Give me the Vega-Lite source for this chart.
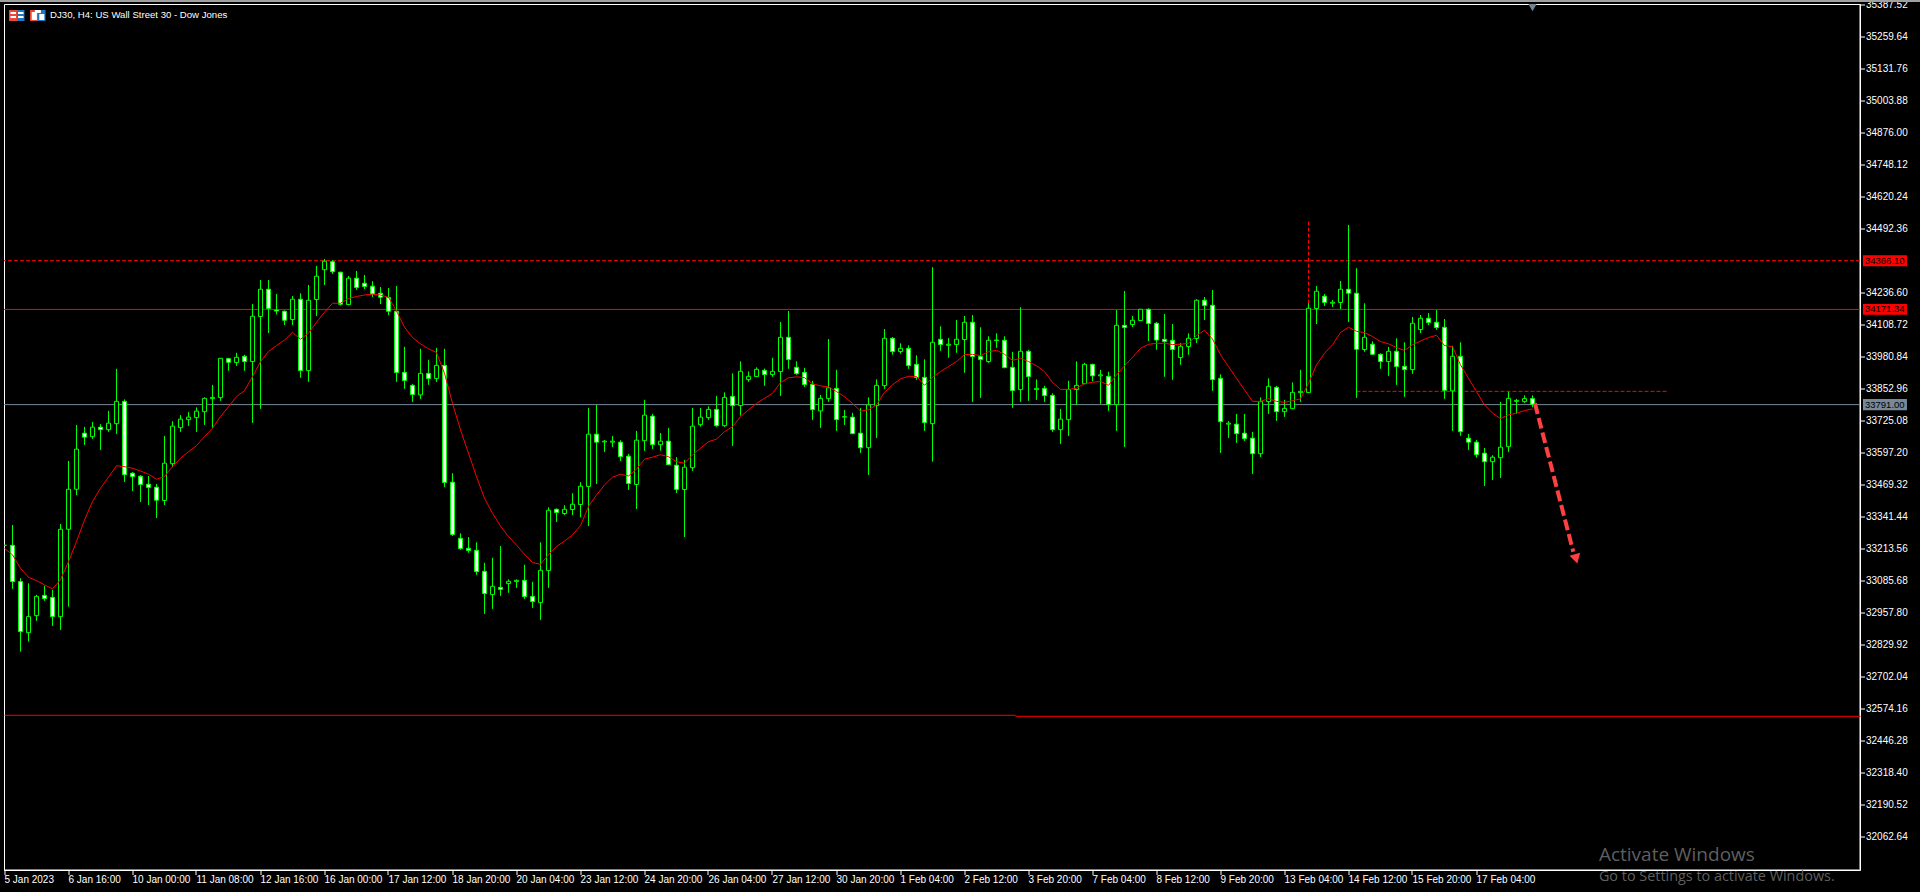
{"$schema":"https://vega.github.io/schema/vega-lite/v6.json","width":1856,"height":866,"autosize":{"type":"none"},"padding":{"left":4,"top":4,"right":60,"bottom":22},"background":"#000000","view":{"stroke":"#ffffff","strokeWidth":1,"fill":"#000000"},
"config":{"scale":{"continuousPadding":0},"axis":{"grid":false,"translate":0,"domainColor":"#ffffff","tickColor":"#ffffff","labelColor":"#ffffff","labelFont":"Liberation Sans","labelFontSize":10,"title":null,"tickSize":5,"labelOverlap":false,"labelBound":false,"labelFlush":false}},
"datasets":{
"candles":[
{"n":-1,"o":33229,"h":33229,"l":33229,"c":33229,"ma":33217},
{"n":0,"o":33229,"h":33310,"l":33055,"c":33084,"ma":33191},
{"n":1,"o":33084,"h":33097,"l":32804,"c":32884,"ma":33137},
{"n":2,"o":32880,"h":33077,"l":32844,"c":32944,"ma":33101},
{"n":3,"o":32948,"h":33031,"l":32927,"c":33025,"ma":33088},
{"n":4,"o":33029,"h":33067,"l":33007,"c":33016,"ma":33071},
{"n":5,"o":33021,"h":33051,"l":32907,"c":32944,"ma":33055},
{"n":6,"o":32944,"h":33314,"l":32891,"c":33293,"ma":33091},
{"n":7,"o":33293,"h":33566,"l":32984,"c":33453,"ma":33164},
{"n":8,"o":33453,"h":33710,"l":33430,"c":33613,"ma":33244},
{"n":9,"o":33677,"h":33702,"l":33630,"c":33661,"ma":33330},
{"n":10,"o":33663,"h":33722,"l":33654,"c":33701,"ma":33404},
{"n":11,"o":33701,"h":33713,"l":33610,"c":33691,"ma":33457},
{"n":12,"o":33691,"h":33766,"l":33682,"c":33717,"ma":33501},
{"n":13,"o":33715,"h":33934,"l":33674,"c":33804,"ma":33547},
{"n":14,"o":33804,"h":33812,"l":33482,"c":33511,"ma":33543},
{"n":15,"o":33517,"h":33521,"l":33446,"c":33503,"ma":33537},
{"n":16,"o":33505,"h":33509,"l":33402,"c":33472,"ma":33526},
{"n":17,"o":33473,"h":33506,"l":33390,"c":33460,"ma":33513},
{"n":18,"o":33461,"h":33474,"l":33338,"c":33409,"ma":33493},
{"n":19,"o":33408,"h":33666,"l":33390,"c":33557,"ma":33503},
{"n":20,"o":33555,"h":33725,"l":33541,"c":33705,"ma":33543},
{"n":21,"o":33699,"h":33749,"l":33682,"c":33733,"ma":33577},
{"n":22,"o":33731,"h":33761,"l":33706,"c":33741,"ma":33603},
{"n":23,"o":33739,"h":33780,"l":33682,"c":33765,"ma":33627},
{"n":24,"o":33763,"h":33820,"l":33710,"c":33816,"ma":33663},
{"n":25,"o":33815,"h":33870,"l":33697,"c":33820,"ma":33697},
{"n":26,"o":33819,"h":33976,"l":33806,"c":33976,"ma":33743},
{"n":27,"o":33975,"h":33978,"l":33926,"c":33960,"ma":33783},
{"n":28,"o":33959,"h":33998,"l":33946,"c":33980,"ma":33823},
{"n":29,"o":33984,"h":33990,"l":33926,"c":33963,"ma":33847},
{"n":30,"o":33963,"h":34193,"l":33718,"c":34144,"ma":33903},
{"n":31,"o":34143,"h":34289,"l":33774,"c":34252,"ma":33963},
{"n":32,"o":34252,"h":34289,"l":34077,"c":34175,"ma":34003},
{"n":33,"o":34169,"h":34233,"l":34151,"c":34165,"ma":34027},
{"n":34,"o":34164,"h":34167,"l":34109,"c":34128,"ma":34049},
{"n":35,"o":34131,"h":34225,"l":34109,"c":34212,"ma":34080},
{"n":36,"o":34212,"h":34236,"l":33898,"c":33927,"ma":34052},
{"n":37,"o":33927,"h":34269,"l":33882,"c":34208,"ma":34076},
{"n":38,"o":34211,"h":34345,"l":34145,"c":34304,"ma":34120},
{"n":39,"o":34330,"h":34373,"l":34269,"c":34364,"ma":34160},
{"n":40,"o":34362,"h":34369,"l":34313,"c":34322,"ma":34196},
{"n":41,"o":34320,"h":34322,"l":34187,"c":34192,"ma":34196},
{"n":42,"o":34191,"h":34305,"l":34188,"c":34296,"ma":34215},
{"n":43,"o":34296,"h":34325,"l":34249,"c":34259,"ma":34223},
{"n":44,"o":34276,"h":34309,"l":34253,"c":34263,"ma":34229},
{"n":45,"o":34264,"h":34284,"l":34221,"c":34233,"ma":34232},
{"n":46,"o":34236,"h":34261,"l":34193,"c":34220,"ma":34229},
{"n":47,"o":34219,"h":34257,"l":34149,"c":34164,"ma":34220},
{"n":48,"o":34164,"h":34265,"l":33882,"c":33919,"ma":34165},
{"n":49,"o":33920,"h":34022,"l":33854,"c":33887,"ma":34100},
{"n":50,"o":33868,"h":33874,"l":33802,"c":33831,"ma":34059},
{"n":51,"o":33830,"h":34014,"l":33814,"c":33916,"ma":34034},
{"n":52,"o":33916,"h":33970,"l":33870,"c":33895,"ma":34014},
{"n":53,"o":33895,"h":34018,"l":33882,"c":33948,"ma":33999},
{"n":54,"o":33948,"h":34014,"l":33462,"c":33480,"ma":33916},
{"n":55,"o":33481,"h":33517,"l":33266,"c":33272,"ma":33796},
{"n":56,"o":33257,"h":33277,"l":33211,"c":33216,"ma":33690},
{"n":57,"o":33217,"h":33262,"l":33199,"c":33208,"ma":33597},
{"n":58,"o":33209,"h":33241,"l":33111,"c":33124,"ma":33503},
{"n":59,"o":33125,"h":33159,"l":32955,"c":33036,"ma":33417},
{"n":60,"o":33032,"h":33179,"l":32975,"c":33065,"ma":33357},
{"n":61,"o":33061,"h":33226,"l":33027,"c":33053,"ma":33306},
{"n":62,"o":33076,"h":33093,"l":33039,"c":33085,"ma":33264},
{"n":63,"o":33084,"h":33093,"l":33059,"c":33089,"ma":33230},
{"n":64,"o":33089,"h":33151,"l":33015,"c":33024,"ma":33193},
{"n":65,"o":33025,"h":33083,"l":32979,"c":33004,"ma":33160},
{"n":66,"o":33000,"h":33241,"l":32931,"c":33129,"ma":33153},
{"n":67,"o":33128,"h":33381,"l":33059,"c":33369,"ma":33191},
{"n":68,"o":33373,"h":33376,"l":33322,"c":33360,"ma":33224},
{"n":69,"o":33356,"h":33389,"l":33350,"c":33373,"ma":33246},
{"n":70,"o":33372,"h":33437,"l":33350,"c":33393,"ma":33270},
{"n":71,"o":33392,"h":33481,"l":33341,"c":33465,"ma":33308},
{"n":72,"o":33464,"h":33778,"l":33306,"c":33673,"ma":33384},
{"n":73,"o":33673,"h":33790,"l":33474,"c":33641,"ma":33430},
{"n":74,"o":33642,"h":33650,"l":33602,"c":33645,"ma":33470},
{"n":75,"o":33641,"h":33666,"l":33622,"c":33645,"ma":33501},
{"n":76,"o":33641,"h":33649,"l":33566,"c":33583,"ma":33513},
{"n":77,"o":33585,"h":33594,"l":33450,"c":33476,"ma":33506},
{"n":78,"o":33472,"h":33686,"l":33374,"c":33649,"ma":33533},
{"n":79,"o":33647,"h":33810,"l":33606,"c":33749,"ma":33573},
{"n":80,"o":33745,"h":33754,"l":33614,"c":33631,"ma":33581},
{"n":81,"o":33631,"h":33678,"l":33607,"c":33645,"ma":33591},
{"n":82,"o":33645,"h":33698,"l":33550,"c":33551,"ma":33583},
{"n":83,"o":33549,"h":33581,"l":33438,"c":33452,"ma":33563},
{"n":84,"o":33452,"h":33570,"l":33262,"c":33541,"ma":33557},
{"n":85,"o":33539,"h":33778,"l":33526,"c":33705,"ma":33590},
{"n":86,"o":33711,"h":33778,"l":33703,"c":33741,"ma":33617},
{"n":87,"o":33739,"h":33784,"l":33730,"c":33772,"ma":33643},
{"n":88,"o":33772,"h":33826,"l":33702,"c":33707,"ma":33653},
{"n":89,"o":33707,"h":33840,"l":33702,"c":33820,"ma":33683},
{"n":90,"o":33824,"h":33916,"l":33626,"c":33787,"ma":33703},
{"n":91,"o":33787,"h":33964,"l":33747,"c":33924,"ma":33743},
{"n":92,"o":33891,"h":33924,"l":33882,"c":33904,"ma":33770},
{"n":93,"o":33903,"h":33940,"l":33902,"c":33932,"ma":33796},
{"n":94,"o":33928,"h":33935,"l":33866,"c":33911,"ma":33816},
{"n":95,"o":33911,"h":33978,"l":33902,"c":33924,"ma":33836},
{"n":96,"o":33923,"h":34121,"l":33826,"c":34060,"ma":33879},
{"n":97,"o":34060,"h":34165,"l":33934,"c":33971,"ma":33898},
{"n":98,"o":33940,"h":33964,"l":33910,"c":33915,"ma":33902},
{"n":99,"o":33920,"h":33938,"l":33862,"c":33871,"ma":33899},
{"n":100,"o":33872,"h":33886,"l":33730,"c":33771,"ma":33874},
{"n":101,"o":33766,"h":33830,"l":33698,"c":33816,"ma":33866},
{"n":102,"o":33815,"h":34053,"l":33802,"c":33858,"ma":33862},
{"n":103,"o":33856,"h":33930,"l":33686,"c":33731,"ma":33843},
{"n":104,"o":33741,"h":33770,"l":33710,"c":33743,"ma":33823},
{"n":105,"o":33741,"h":33758,"l":33674,"c":33675,"ma":33796},
{"n":106,"o":33677,"h":33778,"l":33598,"c":33619,"ma":33765},
{"n":107,"o":33619,"h":33820,"l":33510,"c":33790,"ma":33770},
{"n":108,"o":33787,"h":33892,"l":33658,"c":33868,"ma":33790},
{"n":109,"o":33867,"h":34093,"l":33854,"c":34056,"ma":33840},
{"n":110,"o":34056,"h":34061,"l":33990,"c":34003,"ma":33870},
{"n":111,"o":34003,"h":34036,"l":33994,"c":34016,"ma":33894},
{"n":112,"o":34016,"h":34028,"l":33934,"c":33947,"ma":33904},
{"n":113,"o":33952,"h":33988,"l":33890,"c":33899,"ma":33904},
{"n":114,"o":33900,"h":33972,"l":33686,"c":33719,"ma":33868},
{"n":115,"o":33715,"h":34340,"l":33563,"c":34040,"ma":33900},
{"n":116,"o":34052,"h":34104,"l":34006,"c":34031,"ma":33923},
{"n":117,"o":34028,"h":34057,"l":33978,"c":34032,"ma":33943},
{"n":118,"o":34031,"h":34129,"l":33998,"c":34052,"ma":33963},
{"n":119,"o":34051,"h":34145,"l":33918,"c":34120,"ma":33991},
{"n":120,"o":34120,"h":34149,"l":33802,"c":33983,"ma":33992},
{"n":121,"o":33984,"h":34100,"l":33818,"c":33971,"ma":33987},
{"n":122,"o":33963,"h":34064,"l":33958,"c":34048,"ma":34002},
{"n":123,"o":34047,"h":34076,"l":34018,"c":34049,"ma":34008},
{"n":124,"o":34048,"h":34064,"l":33936,"c":33939,"ma":33992},
{"n":125,"o":33940,"h":34002,"l":33778,"c":33847,"ma":33968},
{"n":126,"o":33851,"h":34180,"l":33802,"c":34004,"ma":33976},
{"n":127,"o":34004,"h":34010,"l":33806,"c":33903,"ma":33963},
{"n":128,"o":33851,"h":33892,"l":33810,"c":33856,"ma":33946},
{"n":129,"o":33856,"h":33866,"l":33802,"c":33827,"ma":33923},
{"n":130,"o":33828,"h":33836,"l":33682,"c":33691,"ma":33880},
{"n":131,"o":33691,"h":33774,"l":33634,"c":33733,"ma":33852},
{"n":132,"o":33731,"h":33886,"l":33666,"c":33851,"ma":33852},
{"n":133,"o":33851,"h":33964,"l":33790,"c":33868,"ma":33856},
{"n":134,"o":33875,"h":33958,"l":33872,"c":33952,"ma":33875},
{"n":135,"o":33952,"h":33954,"l":33884,"c":33906,"ma":33880},
{"n":136,"o":33906,"h":33930,"l":33794,"c":33910,"ma":33884},
{"n":137,"o":33904,"h":33922,"l":33766,"c":33792,"ma":33868},
{"n":138,"o":33791,"h":34169,"l":33686,"c":34108,"ma":33910},
{"n":139,"o":34108,"h":34245,"l":33622,"c":34099,"ma":33946},
{"n":140,"o":34111,"h":34145,"l":34101,"c":34128,"ma":33980},
{"n":141,"o":34127,"h":34173,"l":34125,"c":34172,"ma":34016},
{"n":142,"o":34172,"h":34176,"l":34045,"c":34115,"ma":34032},
{"n":143,"o":34116,"h":34121,"l":34010,"c":34049,"ma":34036},
{"n":144,"o":34052,"h":34153,"l":33902,"c":34043,"ma":34036},
{"n":145,"o":34048,"h":34113,"l":33890,"c":34011,"ma":34031},
{"n":146,"o":33979,"h":34037,"l":33950,"c":34024,"ma":34032},
{"n":147,"o":34023,"h":34076,"l":33990,"c":34056,"ma":34036},
{"n":148,"o":34055,"h":34212,"l":34037,"c":34208,"ma":34067},
{"n":149,"o":34208,"h":34221,"l":34129,"c":34187,"ma":34088},
{"n":150,"o":34188,"h":34249,"l":33846,"c":33891,"ma":34053},
{"n":151,"o":33896,"h":33912,"l":33598,"c":33723,"ma":33990},
{"n":152,"o":33713,"h":33725,"l":33658,"c":33717,"ma":33943},
{"n":153,"o":33713,"h":33754,"l":33638,"c":33675,"ma":33896},
{"n":154,"o":33677,"h":33754,"l":33646,"c":33655,"ma":33850},
{"n":155,"o":33657,"h":33682,"l":33514,"c":33595,"ma":33804},
{"n":156,"o":33595,"h":33820,"l":33582,"c":33803,"ma":33804},
{"n":157,"o":33803,"h":33896,"l":33754,"c":33864,"ma":33815},
{"n":158,"o":33860,"h":33866,"l":33726,"c":33763,"ma":33804},
{"n":159,"o":33763,"h":33810,"l":33742,"c":33776,"ma":33800},
{"n":160,"o":33775,"h":33880,"l":33774,"c":33840,"ma":33807},
{"n":161,"o":33839,"h":33930,"l":33802,"c":33844,"ma":33814},
{"n":162,"o":33839,"h":34196,"l":33838,"c":34176,"ma":33876},
{"n":163,"o":34175,"h":34265,"l":34113,"c":34244,"ma":33950},
{"n":164,"o":34224,"h":34233,"l":34185,"c":34199,"ma":33996},
{"n":165,"o":34196,"h":34209,"l":34181,"c":34200,"ma":34030},
{"n":166,"o":34199,"h":34285,"l":34173,"c":34252,"ma":34079},
{"n":167,"o":34252,"h":34509,"l":34121,"c":34236,"ma":34100},
{"n":168,"o":34236,"h":34336,"l":33818,"c":34012,"ma":34084},
{"n":169,"o":34011,"h":34196,"l":34002,"c":34060,"ma":34079},
{"n":170,"o":34032,"h":34044,"l":33990,"c":33992,"ma":34063},
{"n":171,"o":33992,"h":33996,"l":33934,"c":33963,"ma":34043},
{"n":172,"o":33963,"h":34022,"l":33906,"c":34004,"ma":34034},
{"n":173,"o":34004,"h":34056,"l":33870,"c":33943,"ma":34019},
{"n":174,"o":33944,"h":34040,"l":33822,"c":33931,"ma":34007},
{"n":175,"o":33931,"h":34141,"l":33914,"c":34116,"ma":34030},
{"n":176,"o":34091,"h":34149,"l":34077,"c":34136,"ma":34045},
{"n":177,"o":34136,"h":34157,"l":34109,"c":34119,"ma":34059},
{"n":178,"o":34120,"h":34169,"l":34089,"c":34099,"ma":34068},
{"n":179,"o":34100,"h":34133,"l":33814,"c":33848,"ma":34027},
{"n":180,"o":33846,"h":34026,"l":33686,"c":33984,"ma":34023},
{"n":181,"o":33984,"h":34040,"l":33666,"c":33683,"ma":33950},
{"n":182,"o":33657,"h":33674,"l":33610,"c":33641,"ma":33896},
{"n":183,"o":33641,"h":33650,"l":33579,"c":33591,"ma":33843},
{"n":184,"o":33597,"h":33618,"l":33466,"c":33563,"ma":33790},
{"n":185,"o":33563,"h":33589,"l":33490,"c":33581,"ma":33757},
{"n":186,"o":33579,"h":33802,"l":33498,"c":33621,"ma":33735},
{"n":187,"o":33623,"h":33842,"l":33602,"c":33816,"ma":33750},
{"n":188,"o":33804,"h":33814,"l":33755,"c":33808,"ma":33757},
{"n":189,"o":33803,"h":33828,"l":33798,"c":33815,"ma":33767},
{"n":190,"o":33815,"h":33828,"l":33780,"c":33792,"ma":33774}
],
"levels":[{"p":34171.31,"kind":"resistance"},{"p":33791,"kind":"bid"},{"p":34366.1,"kind":"high"}],
"support":[{"a":-1,"b":125.4,"p":32549.9},{"a":125.4,"b":231,"p":32545.9}],
"segments":[{"a":168,"b":206.8,"p":33844}],
"vertical":[{"n":162,"p1":34522,"p2":34176}],
"arrow":[{"a":190.3,"p1":33796,"b":195.1,"p2":33203}],
"arrowHead":[{"n":195.45,"p":33175}],
"marker":[{"n":190,"p":35377.5}],
"tags":[{"a":231.31,"b":236.81,"p":34366.1,"top":34388,"bot":34344,"t":"34366.10","kind":"red"},{"a":231.31,"b":236.81,"p":34171.34,"top":34193,"bot":34150,"t":"34171.34","kind":"red"},{"a":231.31,"b":236.81,"p":33791,"top":33813,"bot":33769,"t":"33791.00","kind":"gray"}],
"title":[{"n":4.7,"p":35347.6,"t":"DJ30, H4:  US Wall Street 30 - Dow Jones"}],
"wm1":[{"n":198.3,"p":31992,"t":"Activate Windows"}],
"wm2":[{"n":198.3,"p":31904,"t":"Go to Settings to activate Windows."}],
"icons":[
{"a":-0.44,"b":0.56,"top":35367.5,"bot":35323.6,"part":"red"},
{"a":0.56,"b":1.5,"top":35367.5,"bot":35323.6,"part":"blue"},
{"a":-0.25,"b":0.44,"top":35359.6,"bot":35351.6,"part":"white"},
{"a":0.69,"b":1.375,"top":35359.6,"bot":35351.6,"part":"white"},
{"a":-0.25,"b":0.44,"top":35343.6,"bot":35335.6,"part":"white"},
{"a":0.69,"b":1.375,"top":35343.6,"bot":35335.6,"part":"white"},
{"a":2.19,"b":3.19,"top":35367.5,"bot":35323.6,"part":"red"},
{"a":3.19,"b":4.13,"top":35367.5,"bot":35323.6,"part":"blue"},
{"a":2.4,"b":3.05,"top":35359.6,"bot":35327.6,"part":"white"},
{"a":3.35,"b":3.98,"top":35351.6,"bot":35327.6,"part":"white"},
{"a":2.8,"b":3.55,"top":35367.5,"bot":35355.6,"part":"white"}
],
"frame":[{"a":-2.4,"b":-2.4,"p1":35407,"p2":31840},{"a":-2.6,"b":238.6,"p1":35405,"p2":35405}]
},
"layer":[
{"data":{"name":"frame"},"mark":{"type":"rule","stroke":"#a0a0a0","strokeWidth":3},"encoding":{
"x":{"field":"a","type":"quantitative","scale":{"domain":[-1,231],"range":[0.5,1856.5],"nice":false,"zero":false},"axis":{"orient":"bottom","values":[-1,7,15,23,31,39,47,55,63,71,79,87,95,103,111,119,127,135,143,151,159,167,175,183],"tickCount":60,"labelAlign":"left","labelPadding":0,"labelExpr":"['5 Jan 2023','6 Jan 16:00','10 Jan 00:00','11 Jan 08:00','12 Jan 16:00','16 Jan 00:00','17 Jan 12:00','18 Jan 20:00','20 Jan 04:00','23 Jan 12:00','24 Jan 20:00','26 Jan 04:00','27 Jan 12:00','30 Jan 20:00','1 Feb 04:00','2 Feb 12:00','3 Feb 20:00','7 Feb 04:00','8 Feb 12:00','9 Feb 20:00','13 Feb 04:00','14 Feb 12:00','15 Feb 20:00','17 Feb 04:00'][(datum.value+1)/8]"}},
"x2":{"field":"b"},
"y":{"field":"p1","type":"quantitative","scale":{"domain":[31933.8,35389.5],"range":[865.5,0.5],"nice":false,"zero":false},"axis":{"orient":"right","values":[35387.52,35259.64,35131.76,35003.88,34876,34748.12,34620.24,34492.36,34236.6,34108.72,33980.84,33852.96,33725.08,33597.2,33469.32,33341.44,33213.56,33085.68,32957.8,32829.92,32702.04,32574.16,32446.28,32318.4,32190.52,32062.64],"tickCount":60,"format":".2f","labelPadding":1,"labelAlign":"left","labelBaseline":"middle"}},
"y2":{"field":"p2"}}},
{"data":{"name":"levels"},"mark":{"type":"rule","stroke":"#ff0000","strokeWidth":1},"transform":[{"filter":"datum.kind=='resistance'"}],"encoding":{"y":{"field":"p","type":"quantitative","title":null,"scale":{"domain":[31933.8,35389.5],"range":[865.5,0.5],"nice":false,"zero":false}}}},
{"data":{"name":"levels"},"mark":{"type":"rule","stroke":"#ff0000","strokeWidth":1,"strokeDash":[4,2]},"transform":[{"filter":"datum.kind=='high'"}],"encoding":{"y":{"field":"p","type":"quantitative","title":null,"scale":{"domain":[31933.8,35389.5],"range":[865.5,0.5],"nice":false,"zero":false}}}},
{"data":{"name":"levels"},"mark":{"type":"rule","stroke":"#778899","strokeWidth":1},"transform":[{"filter":"datum.kind=='bid'"}],"encoding":{"y":{"field":"p","type":"quantitative","title":null,"scale":{"domain":[31933.8,35389.5],"range":[865.5,0.5],"nice":false,"zero":false}}}},
{"data":{"name":"support"},"mark":{"type":"rule","stroke":"#ff0000","strokeWidth":1},"encoding":{"x":{"field":"a","type":"quantitative","title":null,"scale":{"domain":[-1,231],"range":[0.5,1856.5],"nice":false,"zero":false}},"x2":{"field":"b"},"y":{"field":"p","type":"quantitative","title":null,"scale":{"domain":[31933.8,35389.5],"range":[865.5,0.5],"nice":false,"zero":false}}}},
{"data":{"name":"segments"},"mark":{"type":"rule","stroke":"#ff0000","strokeWidth":1,"strokeDash":[4,2]},"encoding":{"x":{"field":"a","type":"quantitative","title":null,"scale":{"domain":[-1,231],"range":[0.5,1856.5],"nice":false,"zero":false}},"x2":{"field":"b"},"y":{"field":"p","type":"quantitative","title":null,"scale":{"domain":[31933.8,35389.5],"range":[865.5,0.5],"nice":false,"zero":false}}}},
{"data":{"name":"vertical"},"mark":{"type":"rule","stroke":"#ff0000","strokeWidth":1,"strokeDash":[4,2]},"encoding":{"x":{"field":"n","type":"quantitative","title":null,"scale":{"domain":[-1,231],"range":[0.5,1856.5],"nice":false,"zero":false}},"y":{"field":"p1","type":"quantitative","title":null,"scale":{"domain":[31933.8,35389.5],"range":[865.5,0.5],"nice":false,"zero":false}},"y2":{"field":"p2"}}},
{"data":{"name":"candles"},"mark":{"type":"rule","stroke":"#00ff00","strokeWidth":1,"clip":true},"encoding":{"x":{"field":"n","type":"quantitative","title":null,"scale":{"domain":[-1,231],"range":[0.5,1856.5],"nice":false,"zero":false}},"y":{"field":"l","type":"quantitative","title":null,"scale":{"domain":[31933.8,35389.5],"range":[865.5,0.5],"nice":false,"zero":false}},"y2":{"field":"h"}}},
{"data":{"name":"candles"},"mark":{"type":"bar","orient":"vertical","size":4,"stroke":"#00ff00","strokeWidth":1,"clip":true},"encoding":{"x":{"field":"n","type":"quantitative","title":null,"scale":{"domain":[-1,231],"range":[0.5,1856.5],"nice":false,"zero":false}},"y":{"field":"o","type":"quantitative","title":null,"scale":{"domain":[31933.8,35389.5],"range":[865.5,0.5],"nice":false,"zero":false}},"y2":{"field":"c"},"fill":{"condition":{"test":"datum.c<datum.o","value":"#ffffff"},"value":"#000000"}}},
{"data":{"name":"candles"},"mark":{"type":"line","stroke":"#ff0000","strokeWidth":1,"clip":true},"encoding":{"x":{"field":"n","type":"quantitative","title":null,"scale":{"domain":[-1,231],"range":[0.5,1856.5],"nice":false,"zero":false}},"y":{"field":"ma","type":"quantitative","title":null,"scale":{"domain":[31933.8,35389.5],"range":[865.5,0.5],"nice":false,"zero":false}}}},
{"data":{"name":"arrow"},"mark":{"type":"rule","stroke":"#ff4040","strokeWidth":4,"strokeDash":[11,4],"strokeCap":"butt"},"encoding":{"x":{"field":"a","type":"quantitative","title":null,"scale":{"domain":[-1,231],"range":[0.5,1856.5],"nice":false,"zero":false}},"x2":{"field":"b"},"y":{"field":"p1","type":"quantitative","title":null,"scale":{"domain":[31933.8,35389.5],"range":[865.5,0.5],"nice":false,"zero":false}},"y2":{"field":"p2"}}},
{"data":{"name":"arrowHead"},"mark":{"type":"point","shape":"triangle-down","filled":true,"fill":"#ff4040","stroke":null,"opacity":1,"size":121,"angle":345},"encoding":{"x":{"field":"n","type":"quantitative","title":null,"scale":{"domain":[-1,231],"range":[0.5,1856.5],"nice":false,"zero":false}},"y":{"field":"p","type":"quantitative","title":null,"scale":{"domain":[31933.8,35389.5],"range":[865.5,0.5],"nice":false,"zero":false}}}},
{"data":{"name":"marker"},"mark":{"type":"point","shape":"triangle-down","filled":true,"fill":"#6f8596","stroke":null,"opacity":1,"size":70},"encoding":{"x":{"field":"n","type":"quantitative","title":null,"scale":{"domain":[-1,231],"range":[0.5,1856.5],"nice":false,"zero":false}},"y":{"field":"p","type":"quantitative","title":null,"scale":{"domain":[31933.8,35389.5],"range":[865.5,0.5],"nice":false,"zero":false}}}},
{"data":{"name":"tags"},"mark":{"type":"rect"},"encoding":{"x":{"field":"a","type":"quantitative","title":null,"scale":{"domain":[-1,231],"range":[0.5,1856.5],"nice":false,"zero":false}},"x2":{"field":"b"},"y":{"field":"top","type":"quantitative","title":null,"scale":{"domain":[31933.8,35389.5],"range":[865.5,0.5],"nice":false,"zero":false}},"y2":{"field":"bot"},"fill":{"field":"kind","type":"nominal","legend":null,"scale":{"domain":["red","gray"],"range":["#ff0000","#778899"]}}}},
{"data":{"name":"tags"},"mark":{"type":"text","align":"left","baseline":"middle","dx":2,"font":"Liberation Sans","fontSize":9.5,"fill":"#000000"},"encoding":{"x":{"field":"a","type":"quantitative","title":null,"scale":{"domain":[-1,231],"range":[0.5,1856.5],"nice":false,"zero":false}},"y":{"field":"p","type":"quantitative","title":null,"scale":{"domain":[31933.8,35389.5],"range":[865.5,0.5],"nice":false,"zero":false}},"text":{"field":"t"}}},
{"data":{"name":"icons"},"mark":{"type":"rect"},"encoding":{"x":{"field":"a","type":"quantitative","title":null,"scale":{"domain":[-1,231],"range":[0.5,1856.5],"nice":false,"zero":false}},"x2":{"field":"b"},"y":{"field":"top","type":"quantitative","title":null,"scale":{"domain":[31933.8,35389.5],"range":[865.5,0.5],"nice":false,"zero":false}},"y2":{"field":"bot"},"fill":{"field":"part","type":"nominal","legend":null,"scale":{"domain":["red","blue","white"],"range":["#e8483a","#1c78c0","#ffffff"]}}}},
{"data":{"name":"title"},"mark":{"type":"text","align":"left","baseline":"middle","font":"Liberation Sans","fontSize":9.6,"fill":"#ffffff"},"encoding":{"x":{"field":"n","type":"quantitative","title":null,"scale":{"domain":[-1,231],"range":[0.5,1856.5],"nice":false,"zero":false}},"y":{"field":"p","type":"quantitative","title":null,"scale":{"domain":[31933.8,35389.5],"range":[865.5,0.5],"nice":false,"zero":false}},"text":{"field":"t"}}},
{"data":{"name":"wm1"},"mark":{"type":"text","align":"left","baseline":"middle","font":"Open Sans","fontSize":19,"fill":"#5f5f5f"},"encoding":{"x":{"field":"n","type":"quantitative","title":null,"scale":{"domain":[-1,231],"range":[0.5,1856.5],"nice":false,"zero":false}},"y":{"field":"p","type":"quantitative","title":null,"scale":{"domain":[31933.8,35389.5],"range":[865.5,0.5],"nice":false,"zero":false}},"text":{"field":"t"}}},
{"data":{"name":"wm2"},"mark":{"type":"text","align":"left","baseline":"middle","font":"Open Sans","fontSize":14.4,"fill":"#5f5f5f"},"encoding":{"x":{"field":"n","type":"quantitative","title":null,"scale":{"domain":[-1,231],"range":[0.5,1856.5],"nice":false,"zero":false}},"y":{"field":"p","type":"quantitative","title":null,"scale":{"domain":[31933.8,35389.5],"range":[865.5,0.5],"nice":false,"zero":false}},"text":{"field":"t"}}}
],
"resolve":{"scale":{"fill":"independent"}}
}
